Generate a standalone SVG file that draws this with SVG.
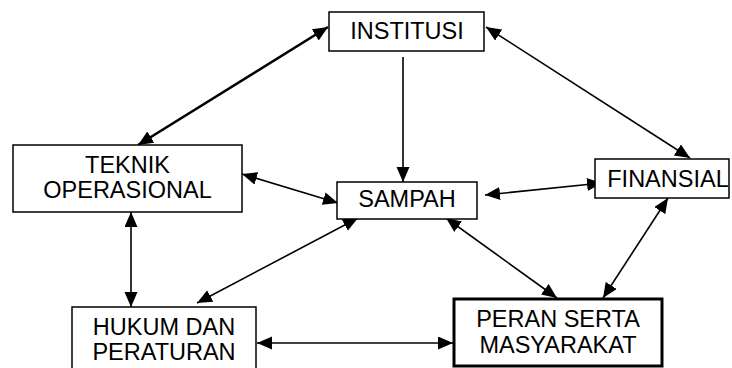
<svg xmlns="http://www.w3.org/2000/svg" width="732" height="368" viewBox="0 0 732 368">
  <style>
    .box { fill: #ffffff; stroke: #000000; stroke-width: 1.5; }
    .box.bold { stroke-width: 3; }
    .label { font-family: "Liberation Sans", Arial, sans-serif; font-size: 23.5px; fill: #000000; text-anchor: middle; }
    .link { stroke: #000000; stroke-width: 1.6; fill: none; marker-end: url(#head); }
    .link.both { marker-start: url(#headStart); }
    .link.heavy { stroke-width: 2.6; }
  </style>
  <defs>
    <marker id="head" markerUnits="userSpaceOnUse" markerWidth="16" markerHeight="14" refX="15" refY="6.5" orient="auto">
      <path d="M0,0 L15,6.5 L0,13 Z" fill="#000000"/>
    </marker>
    <marker id="headStart" markerUnits="userSpaceOnUse" markerWidth="16" markerHeight="14" refX="15" refY="6.5" orient="auto-start-reverse">
      <path d="M0,0 L15,6.5 L0,13 Z" fill="#000000"/>
    </marker>
  </defs>

  <rect width="732" height="368" fill="#ffffff"/>

  <!-- connectors -->
  <g id="connectors">
    <line class="link both heavy" x1="138" y1="145" x2="328" y2="27"/>
    <line class="link both" x1="486" y1="27" x2="690" y2="158"/>
    <line class="link" x1="403" y1="57" x2="403" y2="182"/>
    <line class="link both" x1="242" y1="174" x2="338" y2="203"/>
    <line class="link both" x1="485" y1="195" x2="602" y2="183"/>
    <line class="link both" x1="131" y1="212" x2="131" y2="307"/>
    <line class="link both" x1="197" y1="303" x2="358" y2="218"/>
    <line class="link both" x1="446" y1="218" x2="557" y2="298"/>
    <line class="link both" x1="668" y1="198" x2="603" y2="298"/>
    <line class="link both" x1="257" y1="343" x2="453" y2="343"/>
  </g>

  <!-- nodes -->
  <g id="institusi">
    <rect class="box" x="329" y="12" width="155" height="39"/>
    <text class="label" x="407" y="39">INSTITUSI</text>
  </g>
  <g id="teknik-operasional">
    <rect class="box" x="13" y="145" width="229" height="67"/>
    <text class="label" x="127.5" y="173">TEKNIK</text>
    <text class="label" x="127.5" y="198">OPERASIONAL</text>
  </g>
  <g id="sampah">
    <rect class="box" x="337" y="182" width="140" height="37"/>
    <text class="label" x="407" y="207">SAMPAH</text>
  </g>
  <g id="finansial">
    <rect class="box" x="595" y="159" width="134" height="39"/>
    <text class="label" x="668" y="187">FINANSIAL</text>
  </g>
  <g id="hukum-dan-peraturan">
    <rect class="box" x="72" y="307" width="184" height="70"/>
    <text class="label" x="164" y="335">HUKUM DAN</text>
    <text class="label" x="164" y="360">PERATURAN</text>
  </g>
  <g id="peran-serta-masyarakat">
    <rect class="box bold" x="454" y="299" width="208" height="67"/>
    <text class="label" x="558" y="327">PERAN SERTA</text>
    <text class="label" x="558" y="353">MASYARAKAT</text>
  </g>
</svg>
